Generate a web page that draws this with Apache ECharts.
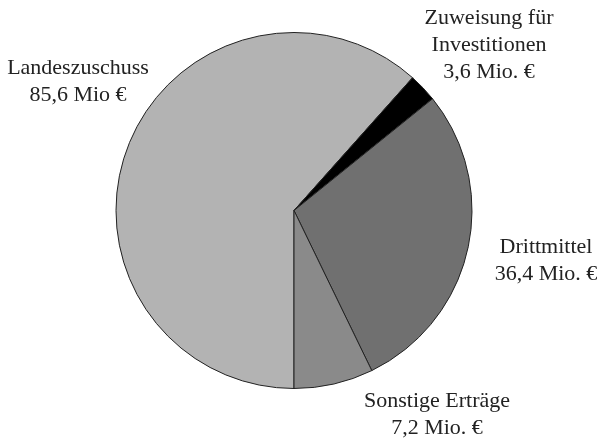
<!DOCTYPE html>
<html>
<head>
<meta charset="utf-8">
<script src="https://cdn.jsdelivr.net/npm/echarts@6/dist/echarts.min.js"></script>
<style>html,body{margin:0;padding:0;background:#fff}#c{width:601px;height:442px}</style>
</head>
<body>
<div id="c"></div>
<script>
// Categories and label texts
const categories = ['Landeszuschuss', 'Zuweisung für Investitionen', 'Drittmittel', 'Sonstige Erträge'];
const labelTexts = [
  'Landeszuschuss\n85,6 Mio €',
  'Zuweisung für\nInvestitionen\n3,6 Mio. €',
  'Drittmittel\n36,4 Mio. €',
  'Sonstige Erträge\n7,2 Mio. €'
];
// Slice shares (percent)
const shares = [61.6, 2.6, 28.6, 7.2];
const colors = ['#b3b3b3', '#000000', '#707070', '#8a8a8a'];
// label anchor positions (layout only)
const labelPos = [[78, 82], [489, 45], [546, 261], [437, 415]];

const chart = echarts.init(document.getElementById('c'), null, {renderer: 'canvas'});
chart.setOption({
  animation: false,
  backgroundColor: '#ffffff',
  series: [{
    type: 'pie',
    center: [294, 210.5],
    radius: 178,
    startAngle: 270,
    clockwise: true,
    avoidLabelOverlap: false,
    itemStyle: { borderColor: '#222', borderWidth: 1 },
    label: {
      show: true,
      position: 'outside',
      formatter: p => labelTexts[p.dataIndex],
      fontFamily: 'Liberation Serif',
      fontSize: 22,
      lineHeight: 27,
      color: '#222',
      align: 'center'
    },
    labelLine: { show: false },
    labelLayout: p => ({
      x: labelPos[p.dataIndex][0],
      y: labelPos[p.dataIndex][1],
      align: 'center',
      verticalAlign: 'middle'
    }),
    emphasis: { disabled: true },
    data: categories.map((c, i) => ({ name: c, value: shares[i], itemStyle: { color: colors[i] } }))
  }]
});
</script>
</body>
</html>
